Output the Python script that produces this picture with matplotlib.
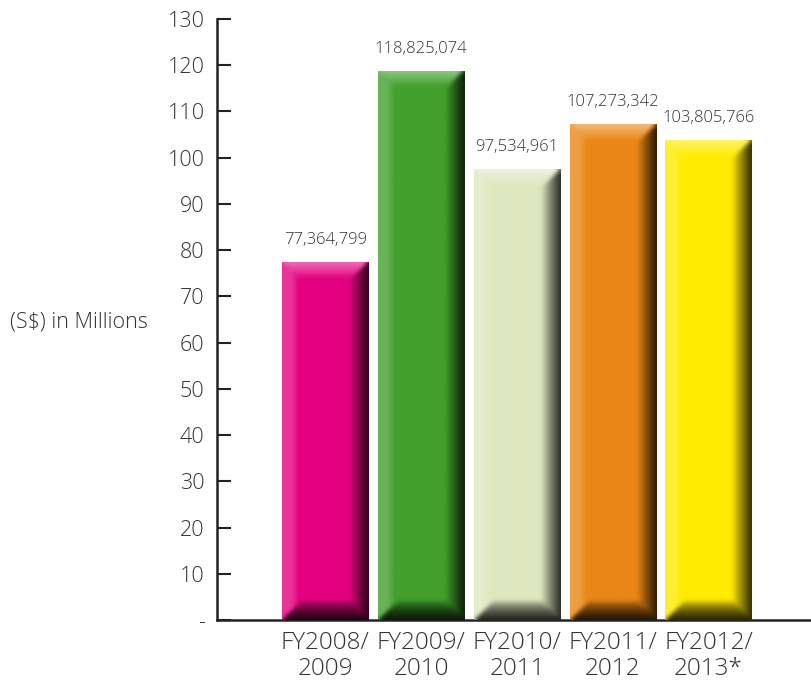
import numpy as np
import matplotlib
matplotlib.use("Agg")
import matplotlib.pyplot as plt

# data
years = ["FY2008/\n2009", "FY2009/\n2010", "FY2010/\n2011", "FY2011/\n2012", "FY2012/\n2013*"]
values = [77364799, 118825074, 97534961, 107273342, 103805766]
colors = ["#E4007F", "#43A02C", "#DDE8BF", "#EA8716", "#FFEB00"]
yticks = [0, 10, 20, 30, 40, 50, 60, 70, 80, 90, 100, 110, 120, 130]
ytick_labels = ["-"] + [str(t) for t in yticks[1:]]

plt.rcParams['font.family'] = ['Open Sans', 'DejaVu Sans']
plt.rcParams['font.weight'] = 'light'
text_col = "#333333"

fig = plt.figure(figsize=(8.11, 6.84), dpi=100)
ax = fig.add_axes([0.2676, 0.0936, 0.7312, 0.8786])

x = np.arange(len(years))
millions = [v / 1e6 for v in values]
bars = ax.bar(x, millions, width=0.9, color=colors, zorder=2)
ax.set_xlim(-1.13, 5.06)
ax.set_ylim(0, 130)


def soften(a, k=5):
    # separable box blur, a few passes
    kern = np.ones(k) / k
    for _ in range(2):
        a = np.apply_along_axis(lambda r: np.convolve(np.pad(r, k // 2, mode='edge'), kern, 'valid'), 1, a)
        a = np.apply_along_axis(lambda r: np.convolve(np.pad(r, k // 2, mode='edge'), kern, 'valid'), 0, a)
    return a


def bevel(color, W, H):
    # light top/left, dark right/bottom
    c = np.array(matplotlib.colors.to_rgb(color))
    xx, yy = np.meshgrid(np.arange(W), np.arange(H))
    dl = xx.astype(float)
    dr = (W - 1 - xx).astype(float)
    dt = yy.astype(float)
    db = (H - 1 - yy).astype(float)
    near = np.argmin(np.stack([dl, dr, dt, db]), axis=0)

    light = np.zeros((H, W))
    dark = np.zeros((H, W))
    lt = np.clip(1 - dt / 16, 0, 1) * 0.42
    ll = np.where(dl < 10, 0.2, np.clip(0.2 * (1 - (dl - 10) / 5), 0, 0.2))
    dk_r = np.clip(1 - dr / 19, 0, 1) ** 0.9 * 0.8
    dk_b = np.clip(1 - db / 19, 0, 1) ** 0.6 * 0.85

    light = np.where(near == 2, lt, light)
    light = np.where(near == 0, ll, light)
    dark = np.where(near == 1, dk_r, dark)
    dark = np.where(near == 3, dk_b, dark)
    light = soften(light)
    dark = soften(dark)

    img = np.tile(c, (H, W, 1))
    img = img + (1 - img) * light[..., None]
    img = img * (1 - dark[..., None])
    return np.clip(img, 0, 1)


fig.canvas.draw()
for b, col in zip(bars, colors):
    x0, y0 = b.get_x(), b.get_y()
    w, h = b.get_width(), b.get_height()
    p0 = ax.transData.transform((x0, y0))
    p1 = ax.transData.transform((x0 + w, y0 + h))
    W = int(round(p1[0] - p0[0]))
    H = int(round(p1[1] - p0[1]))
    im = ax.imshow(bevel(col, W, H), extent=(x0, x0 + w, y0, y0 + h),
                   aspect='auto', zorder=3, interpolation='bilinear')
    im.set_clip_path(b)

ax.set_xlim(-1.13, 5.06)
ax.set_ylim(0, 130)

for xi, v, m in zip(x, values, millions):
    ax.annotate(f"{v:,}", (xi, m), xytext=(0, 10), textcoords='offset points',
                ha='center', va='bottom', fontsize=12, color=text_col)

ax.set_yticks(yticks)
ax.set_yticklabels(ytick_labels)
ax.set_xticks(x)
ax.set_xticklabels(years, linespacing=1.1)
ax.tick_params(axis='y', direction='in', length=10, width=1.5, pad=9,
               labelsize=15.5, labelcolor=text_col, color="#222222")
ax.tick_params(axis='x', length=0, pad=8, labelsize=17.5, labelcolor=text_col)

for s in ['top', 'right']:
    ax.spines[s].set_visible(False)
ax.spines['left'].set_linewidth(1.8)
ax.spines['left'].set_color("#222222")
ax.spines['bottom'].set_linewidth(1.8)
ax.spines['bottom'].set_color("#222222")

fig.text(10 / 811, 1 - 322 / 684, "(S$) in Millions", ha='left', va='center',
         fontsize=15.5, color=text_col)

fig.savefig("out.png", dpi=100)
